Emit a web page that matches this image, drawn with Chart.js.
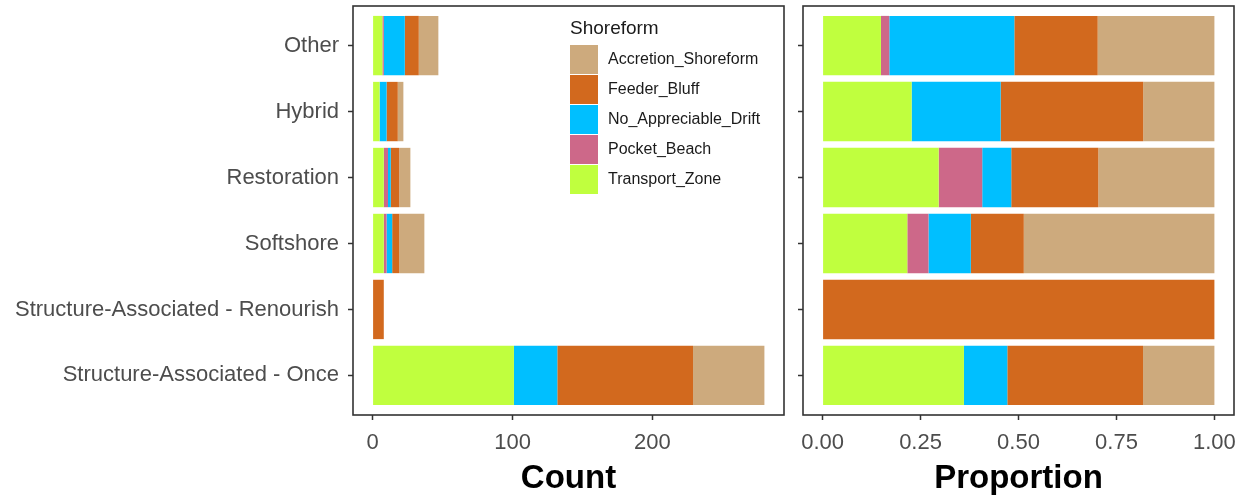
<!DOCTYPE html>
<html>
<head>
<meta charset="utf-8">
<title>Shoreform by category</title>
<script src="https://cdn.jsdelivr.net/npm/chart.js@4/dist/chart.umd.min.js"></script>
<style>
  body { margin: 0; background: #fff; font-family: 'Liberation Sans', Arial, sans-serif; }
  #wrap { position: relative; width: 1247px; height: 499px; }
  .panel { position: absolute; top: 0; height: 499px; }
  #left { left: 0; width: 790px; }
  #right { left: 790px; width: 457px; }
  #legend { position: absolute; left: 570px; top: 18px; color: #1a1a1a; }
  #legend .title { font-size: 19px; line-height: 19px; margin-bottom: 7px; }
  #legend .item { display: flex; align-items: center; height: 30px; font-size: 16px; }
  #legend .swatch { width: 28px; height: 29px; margin-right: 10px; }
</style>
</head>
<body>
<div id="wrap">
  <div class="panel" id="left"><canvas id="count-chart"></canvas></div>
  <div class="panel" id="right"><canvas id="prop-chart"></canvas></div>
  <div id="legend"></div>
</div>
<script>
// categories top to bottom
const categories = ['Other', 'Hybrid', 'Restoration', 'Softshore',
  'Structure-Associated - Renourish', 'Structure-Associated - Once'];

// stacking order, left to right
const shoreforms = ['Transport_Zone', 'Pocket_Beach', 'No_Appreciable_Drift', 'Feeder_Bluff', 'Accretion_Shoreform'];
const colors = ['#C0FF3E', '#CD6889', '#00BFFF', '#D2691E', '#CDAA7D'];

// counts per category (same order as categories)
const transportZone      = [7, 5, 8, 8, 0, 101];
const pocketBeach        = [1, 0, 3, 2, 0, 0];
const noAppreciableDrift = [15, 5, 2, 4, 0, 31];
const feederBluff        = [10, 8, 6, 5, 8, 97];
const accretionShoreform = [14, 4, 8, 18, 0, 51];

const countTicks = [0, 100, 200];
const proportionTicks = [0, 0.25, 0.5, 0.75, 1];

const series = [transportZone, pocketBeach, noAppreciableDrift, feederBluff, accretionShoreform];
const totals = categories.map((c, i) => series.reduce((s, arr) => s + arr[i], 0));

const FONT = "'Liberation Sans', Arial, sans-serif";
const AXIS_DARK = '#333333';
const TICK_TEXT = '#4D4D4D';

// panel border like ggplot's theme
const framePlugin = {
  id: 'frame',
  afterDatasetsDraw(chart) {
    const { ctx, chartArea: a } = chart;
    ctx.save();
    ctx.strokeStyle = AXIS_DARK;
    ctx.lineWidth = 1.6;
    ctx.strokeRect(a.left, a.top, a.right - a.left, a.bottom - a.top);
    ctx.restore();
  }
};

function buildDatasets(proportion) {
  return shoreforms.map((name, k) => ({
    label: name,
    data: series[k].map((v, i) => ({ x: proportion ? v / totals[i] : v, y: i + 1 })),
    backgroundColor: colors[k],
    borderWidth: 0,
    categoryPercentage: 1,
    barPercentage: 0.9
  }));
}

function makeChart(id, proportion, opts) {
  const ctx = document.getElementById(id);
  return new Chart(ctx, {
    type: 'bar',
    data: { datasets: buildDatasets(proportion) },
    options: {
      indexAxis: 'y',
      responsive: true,
      maintainAspectRatio: false,
      animation: false,
      layout: { padding: { top: 6, right: opts.padRight, left: 0, bottom: 0 } },
      plugins: { legend: { display: false }, tooltip: { enabled: false } },
      scales: {
        x: {
          type: 'linear',
          stacked: true,
          min: opts.min,
          max: opts.max,
          afterBuildTicks: s => { s.ticks = opts.ticks.map(v => ({ value: v })); },
          afterFit: s => { s.height = 84; },
          grid: { drawOnChartArea: false, drawTicks: true, tickLength: 5, tickColor: AXIS_DARK, tickWidth: 1.5 },
          border: { display: false },
          ticks: {
            color: TICK_TEXT,
            padding: 10,
            maxRotation: 0,
            font: { family: FONT, size: 22 },
            callback: opts.format
          },
          title: {
            display: true,
            text: opts.title,
            color: '#000',
            padding: { top: 0, bottom: 0 },
            font: { family: FONT, size: 33, weight: 'bold' }
          }
        },
        y: {
          type: 'linear',
          stacked: true,
          reverse: true,
          offset: false,
          min: 0.4,
          max: 6.6,
          afterBuildTicks: s => { s.ticks = categories.map((c, i) => ({ value: i + 1 })); },
          afterFit: s => {
            s.width = opts.yWidth;
            // labels sit well inside the panel, no extra room needed
            s.paddingTop = 0;
            s.paddingBottom = 0;
          },
          grid: { offset: false, drawOnChartArea: false, drawTicks: true, tickLength: 5, tickColor: AXIS_DARK, tickWidth: 1.5 },
          border: { display: false },
          ticks: {
            display: opts.showLabels,
            color: TICK_TEXT,
            padding: 9,
            font: { family: FONT, size: 22 },
            callback: v => categories[v - 1]
          }
        }
      }
    },
    plugins: [framePlugin]
  });
}

makeChart('count-chart', false, {
  min: -14, max: 294, ticks: countTicks, title: 'Count',
  format: v => String(v), yWidth: 353, padRight: 6, showLabels: true
});

makeChart('prop-chart', true, {
  min: -0.05, max: 1.05, ticks: proportionTicks, title: 'Proportion',
  format: v => v.toFixed(2), yWidth: 13, padRight: 13, showLabels: false
});

// legend (ggplot order: reversed stack)
const legend = document.getElementById('legend');
legend.innerHTML = '<div class="title">Shoreform</div>' +
  shoreforms.map((name, k) => ({ name, color: colors[k] })).reverse()
    .map(it => `<div class="item"><div class="swatch" style="background:${it.color}"></div>${it.name}</div>`)
    .join('');
</script>
</body>
</html>
